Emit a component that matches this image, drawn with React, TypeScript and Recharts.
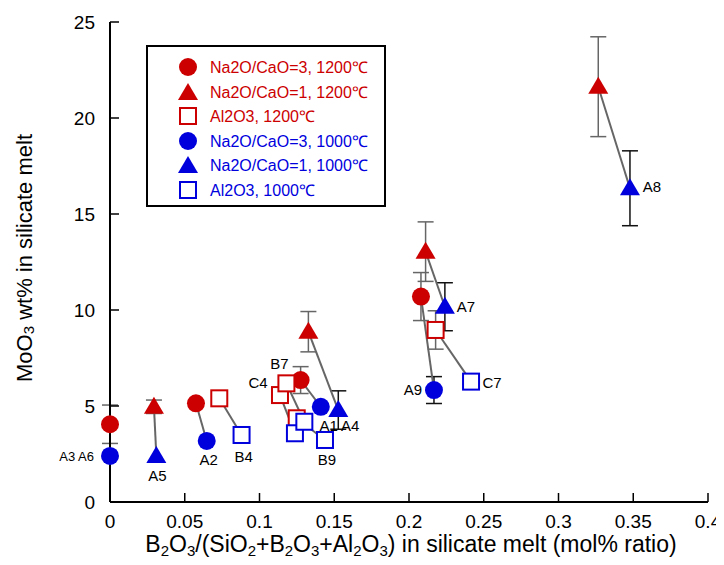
import React from 'react'
import { ScatterChart, Scatter, XAxis, YAxis, ErrorBar, Legend } from 'recharts'

const RED = '#cc0000'
const BLUE = '#0000dd'
const FONT = '"Liberation Sans", Arial, sans-serif'

const xTicks = [0, 0.05, 0.1, 0.15, 0.2, 0.25, 0.3, 0.35, 0.4]
const yTicks = [0, 5, 10, 15, 20, 25]

// 1200℃ runs
const circles1200 = [
  { x: 0, y: 4.05, err: 1.0 },
  { x: 0.0575, y: 5.14, err: 0 },
  { x: 0.1275, y: 6.35, err: 0.7 },
  { x: 0.208, y: 10.7, err: 1.25 },
]
const triangles1200 = [
  { x: 0.0294, y: 4.96, err: 0.35 },
  { x: 0.1327, y: 8.87, err: 1.05 },
  { x: 0.2111, y: 13.04, err: 1.55 },
  { x: 0.3266, y: 21.63, err: 2.6 },
]
const squares1200 = [
  { x: 0.0731, y: 5.4, err: 0 },
  { x: 0.1137, y: 5.57, err: 0 },
  { x: 0.118, y: 6.18, err: 0 },
  { x: 0.1249, y: 4.36, err: 0 },
  { x: 0.2178, y: 8.96, err: 1.0 },
]

// 1000℃ runs (same index = same composition)
const circles1000 = [
  { x: 0, y: 2.4, err: 0 },
  { x: 0.0647, y: 3.18, err: 0 },
  { x: 0.141, y: 4.96, err: 0 },
  { x: 0.2167, y: 5.83, err: 0.7 },
]
const triangles1000 = [
  { x: 0.031, y: 2.4, err: 0 },
  { x: 0.1527, y: 4.79, err: 1.0 },
  { x: 0.224, y: 10.17, err: 1.25 },
  { x: 0.3478, y: 16.34, err: 1.95 },
]
const squares1000 = [
  { x: 0.088, y: 3.49, err: 0 },
  { x: 0.1237, y: 3.58, err: 0 },
  { x: 0.13, y: 4.18, err: 0 },
  { x: 0.1438, y: 3.23, err: 0 },
  { x: 0.2415, y: 6.27, err: 0 },
]

// sample names, attached to a point
const sampleLabels = [
  { name: 'A3 A6', x: 0, y: 2.4 },
  { name: 'A5', x: 0.031, y: 2.4 },
  { name: 'A2', x: 0.0647, y: 3.18 },
  { name: 'B4', x: 0.088, y: 3.49 },
  { name: 'C4', x: 0.1137, y: 5.57 },
  { name: 'B7', x: 0.118, y: 6.18 },
  { name: 'A1', x: 0.141, y: 4.96 },
  { name: 'A4', x: 0.1527, y: 4.79 },
  { name: 'B9', x: 0.1438, y: 3.23 },
  { name: 'A9', x: 0.2167, y: 5.83 },
  { name: 'C7', x: 0.2415, y: 6.27 },
  { name: 'A7', x: 0.224, y: 10.17 },
  { name: 'A8', x: 0.3478, y: 16.34 },
]

const legendLabels = [
  'Na2O/CaO=3, 1200℃',
  'Na2O/CaO=1, 1200℃',
  'Al2O3, 1200℃',
  'Na2O/CaO=3, 1000℃',
  'Na2O/CaO=1, 1000℃',
  'Al2O3, 1000℃',
]

// label placement relative to the point (px)
const labelOffset: Record<string, [number, number, string]> = {
  'A3 A6': [-16, 5, 'end'],
  A5: [1, 25, 'middle'],
  A2: [2, 24, 'middle'],
  B4: [2, 27, 'middle'],
  C4: [-22, -7, 'middle'],
  B7: [-7, -14, 'middle'],
  A1: [8, 24, 'middle'],
  A4: [12, 21, 'middle'],
  B9: [2, 25, 'middle'],
  A9: [-21, 5, 'middle'],
  C7: [21, 6, 'middle'],
  A7: [21, 5, 'middle'],
  A8: [22, 4, 'middle'],
}

const pairs = [
  ...circles1200.map((p, i) => [p, circles1000[i]]).slice(1),
  ...triangles1200.map((p, i) => [p, triangles1000[i]]),
  ...squares1200.map((p, i) => [p, squares1000[i]]),
]

const Circle = (color: string) => (props: any) => (
  <circle cx={props.cx} cy={props.cy} r={9} fill={color} />
)
const Triangle = (color: string) => (props: any) => {
  const { cx, cy } = props
  return <polygon points={`${cx},${cy - 10} ${cx + 10},${cy + 7} ${cx - 10},${cy + 7}`} fill={color} />
}
const Square = (color: string) => (props: any) => (
  <rect x={props.cx - 8} y={props.cy - 8} width={16} height={16} fill="#fff" stroke={color} strokeWidth={2} />
)
const Nothing = () => <g />

const SampleLabel = (props: any) => {
  const { cx, cy, payload } = props
  const [dx, dy, anchor] = labelOffset[payload.name]
  return (
    <text x={cx + dx} y={cy + dy} textAnchor={anchor} fontSize={payload.name === 'A3 A6' ? 13 : 15} fontFamily={FONT} fill="#000">
      {payload.name}
    </text>
  )
}

const BottomTick = (props: any) => {
  const { x, y, payload } = props
  return (
    <g>
      <line x1={x} y1={y} x2={x} y2={y - 9} stroke="#000" strokeWidth={1.5} />
      <text x={x} y={y + 26} textAnchor="middle" fontSize={19} fontFamily={FONT} fill="#000">{payload.value}</text>
    </g>
  )
}
const TopTick = (props: any) => (
  <line x1={props.x} y1={props.y} x2={props.x} y2={props.y + 9} stroke="#000" strokeWidth={1.5} />
)
const LeftTick = (props: any) => {
  const { x, y, payload } = props
  return (
    <g>
      <line x1={x} y1={y} x2={x + 9} y2={y} stroke="#000" strokeWidth={1.5} />
      <text x={x - 15} y={y + 7} textAnchor="end" fontSize={19} fontFamily={FONT} fill="#000">{payload.value}</text>
    </g>
  )
}
const RightTick = (props: any) => (
  <line x1={props.x} y1={props.y} x2={props.x - 9} y2={props.y} stroke="#000" strokeWidth={1.5} />
)

const rich = (parts: [string, boolean][], size: number, subSize: number) => {
  let low = false
  return parts.map(([t, sub], i) => {
    const dy = sub && !low ? 4 : !sub && low ? -4 : 0
    low = sub
    return (
      <tspan key={i} dy={dy} fontSize={sub ? subSize : size}>
        {t}
      </tspan>
    )
  })
}

const XLabel = (props: any) => {
  const { x, y, width } = props.viewBox
  return (
    <text x={x + width / 2 + 2} y={y + 50} textAnchor="middle" fontFamily={FONT} fill="#000">
      {rich(
        [
          ['B', false], ['2', true], ['O', false], ['3', true], ['/(SiO', false], ['2', true],
          ['+B', false], ['2', true], ['O', false], ['3', true], ['+Al', false], ['2', true],
          ['O', false], ['3', true], [') in silicate melt (mol% ratio)', false],
        ],
        23,
        15,
      )}
    </text>
  )
}
const YLabel = (props: any) => {
  const { y, height } = props.viewBox
  const cx = 24
  const cy = y + height / 2 - 4
  return (
    <text x={cx} y={cy} transform={`rotate(-90 ${cx} ${cy})`} textAnchor="middle" dominantBaseline="central" fontFamily={FONT} fill="#000">
      {rich([['MoO', false], ['3', true], [' wt% in silicate melt', false]], 22, 15)}
    </text>
  )
}

const LegendBox = () => (
  <div
    style={{
      border: '2px solid #000',
      width: 236,
      height: 158,
      background: '#fff',
      position: 'relative',
      fontFamily: FONT,
      fontSize: 16,
    }}
  >
    {legendLabels.map((label, i) => {
      const color = i < 3 ? RED : BLUE
      const kind = i % 3
      return (
        <div key={label} style={{ position: 'absolute', left: 28, top: 8 + i * 24.6, height: 24, display: 'flex', alignItems: 'center' }}>
          <svg width={24} height={24}>
            {kind === 0 && <circle cx={12} cy={12} r={9} fill={color} />}
            {kind === 1 && <polygon points="12,3 22,20 2,20" fill={color} />}
            {kind === 2 && <rect x={4} y={4} width={16} height={16} fill="#fff" stroke={color} strokeWidth={2} />}
          </svg>
          <span style={{ color, marginLeft: 10, whiteSpace: 'nowrap' }}>{label}</span>
        </div>
      )
    })}
  </div>
)

export default function App() {
  return (
    <div style={{ margin: -8 }}>
      <ScatterChart width={724} height={565} margin={{ top: 22, right: 16, bottom: 0, left: 0 }}>
        <XAxis
          xAxisId="b"
          type="number"
          dataKey="x"
          domain={[0, 0.4]}
          ticks={xTicks}
          orientation="bottom"
          height={63}
          tickSize={0}
          tickMargin={0}
          tickLine={false}
          tick={BottomTick}
          axisLine={{ stroke: '#000', strokeWidth: 2 }}
          label={{ content: XLabel }}
        />
        <XAxis
          xAxisId="t"
          type="number"
          dataKey="x"
          domain={[0, 0.4]}
          ticks={xTicks}
          orientation="top"
          height={0}
          tickSize={0}
          tickMargin={0}
          tickLine={false}
          tick={TopTick}
          axisLine={{ stroke: '#000', strokeWidth: 2 }}
        />
        <YAxis
          yAxisId="l"
          type="number"
          dataKey="y"
          domain={[0, 25]}
          ticks={yTicks}
          orientation="left"
          width={110}
          tickSize={0}
          tickMargin={0}
          tickLine={false}
          tick={LeftTick}
          axisLine={{ stroke: '#000', strokeWidth: 2 }}
          label={{ content: YLabel }}
        />
        <YAxis
          yAxisId="r"
          type="number"
          dataKey="y"
          domain={[0, 25]}
          ticks={yTicks}
          orientation="right"
          width={0}
          tickSize={0}
          tickMargin={0}
          tickLine={false}
          tick={RightTick}
          axisLine={{ stroke: '#000', strokeWidth: 2 }}
        />
        <Legend
          verticalAlign="middle"
          align="center"
          content={LegendBox}
          wrapperStyle={{ left: 146, top: 45, width: 240, height: 162 }}
        />
        {pairs.map((pair, i) => (
          <Scatter
            key={'pair' + i}
            xAxisId="b"
            yAxisId="l"
            data={pair}
            line={{ stroke: '#666', strokeWidth: 2 }}
            shape={Nothing}
            legendType="none"
            isAnimationActive={false}
          />
        ))}
        <Scatter xAxisId="b" yAxisId="l" data={circles1200} shape={Circle(RED)} isAnimationActive={false}>
          <ErrorBar dataKey="err" direction="y" width={8} stroke="#666" strokeWidth={1.5} />
        </Scatter>
        <Scatter xAxisId="b" yAxisId="l" data={triangles1200} shape={Triangle(RED)} isAnimationActive={false}>
          <ErrorBar dataKey="err" direction="y" width={8} stroke="#666" strokeWidth={1.5} />
        </Scatter>
        <Scatter xAxisId="b" yAxisId="l" data={squares1200} shape={Square(RED)} isAnimationActive={false}>
          <ErrorBar dataKey="err" direction="y" width={8} stroke="#666" strokeWidth={1.5} />
        </Scatter>
        <Scatter xAxisId="b" yAxisId="l" data={circles1000} shape={Circle(BLUE)} isAnimationActive={false}>
          <ErrorBar dataKey="err" direction="y" width={8} stroke="#111" strokeWidth={1.5} />
        </Scatter>
        <Scatter xAxisId="b" yAxisId="l" data={triangles1000} shape={Triangle(BLUE)} isAnimationActive={false}>
          <ErrorBar dataKey="err" direction="y" width={8} stroke="#111" strokeWidth={1.5} />
        </Scatter>
        <Scatter xAxisId="b" yAxisId="l" data={squares1000} shape={Square(BLUE)} isAnimationActive={false}>
          <ErrorBar dataKey="err" direction="y" width={8} stroke="#111" strokeWidth={1.5} />
        </Scatter>
        <Scatter xAxisId="b" yAxisId="l" data={sampleLabels} shape={SampleLabel} isAnimationActive={false} />
      </ScatterChart>
    </div>
  )
}
